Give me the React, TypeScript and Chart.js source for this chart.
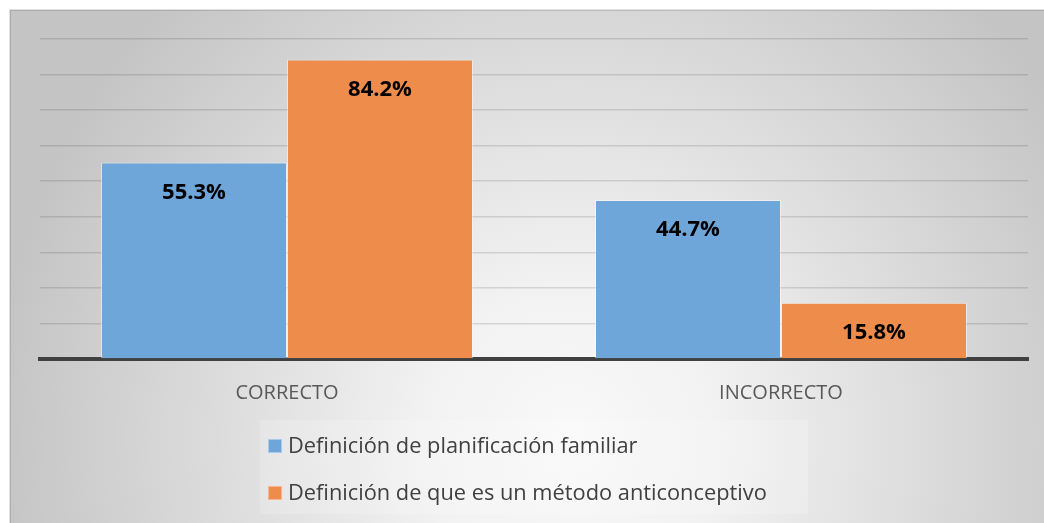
import React, { useEffect, useRef } from 'react';
import { Chart, registerables } from 'chart.js';

Chart.register(...registerables);

const categories = ['CORRECTO', 'INCORRECTO'];
const seriesNames = [
  'Definición de planificación familiar',
  'Definición de que es un método anticonceptivo',
];
const planificacionValues = [55.3, 44.7];
const metodoValues = [84.2, 15.8];
const seriesColors = ['#6ea6da', '#ee8c4c'];
const seriesEdge = ['#a9cbeb', '#f5b690'];
const yMin = 0;
const yMax = 90;
const yStep = 10;

const backgroundPlugin = {
  id: 'bgPanel',
  beforeDraw(chart: any) {
    const ctx = chart.ctx as CanvasRenderingContext2D;
    const w = chart.width;
    const h = chart.height;
    ctx.save();
    ctx.fillStyle = '#ffffff';
    ctx.fillRect(0, 0, w, h);
    const cx = 570;
    const cy = 440;
    const rx = 580;
    const ry = 620;
    ctx.save();
    ctx.beginPath();
    ctx.rect(10, 10, w - 10, h - 10);
    ctx.clip();
    ctx.translate(cx, cy);
    ctx.scale(1, ry / rx);
    const g = ctx.createRadialGradient(0, 0, 0, 0, 0, rx);
    g.addColorStop(0, '#f9f9f9');
    g.addColorStop(0.25, '#f2f2f2');
    g.addColorStop(1, '#c4c4c4');
    ctx.fillStyle = g;
    ctx.fillRect(-cx - 10, -cy * 2, w * 2, h * 3);
    ctx.restore();
    ctx.strokeStyle = 'rgba(0,0,0,0.12)';
    ctx.lineWidth = 2;
    ctx.beginPath();
    ctx.moveTo(10, h);
    ctx.lineTo(10, 10);
    ctx.lineTo(w, 10);
    ctx.stroke();
    ctx.restore();
  },
};

const valueLabelPlugin = {
  id: 'valueLabels',
  afterDraw(chart: any) {
    const ctx = chart.ctx as CanvasRenderingContext2D;
    ctx.save();
    ctx.fillStyle = '#000000';
    ctx.font = 'bold 22px "Open Sans"';
    ctx.textAlign = 'center';
    ctx.textBaseline = 'middle';
    chart.data.datasets.forEach((ds: any, di: number) => {
      const meta = chart.getDatasetMeta(di);
      meta.data.forEach((bar: any, i: number) => {
        const v = ds.data[i] as number;
        ctx.fillText(v.toFixed(1) + '%', bar.x, bar.y + 30);
      });
    });
    ctx.restore();
  },
};

const legendPlugin = {
  id: 'customLegend',
  afterDraw(chart: any) {
    const ctx = chart.ctx as CanvasRenderingContext2D;
    ctx.save();
    ctx.fillStyle = 'rgba(255,255,255,0.18)';
    ctx.fillRect(260, 420, 548, 94);
    const rows = [446, 493];
    ctx.font = '21.8px "Open Sans"';
    ctx.textBaseline = 'middle';
    ctx.textAlign = 'left';
    chart.data.datasets.forEach((ds: any, di: number) => {
      const y = rows[di];
      ctx.fillStyle = ds.backgroundColor;
      ctx.fillRect(268, y - 7, 14, 14);
      ctx.strokeStyle = seriesEdge[di];
      ctx.lineWidth = 1;
      ctx.strokeRect(268.5, y - 6.5, 13, 13);
      ctx.fillStyle = '#404040';
      ctx.fillText(ds.label, 288, y + 1);
    });
    ctx.restore();
  },
};

export default function App() {
  const canvasRef = useRef<HTMLCanvasElement | null>(null);

  useEffect(() => {
    document.body.style.margin = '0';
    const canvas = canvasRef.current;
    if (!canvas) return;
    const chart = new Chart(canvas, {
      type: 'bar',
      data: {
        labels: categories,
        datasets: [
          {
            label: seriesNames[0],
            data: planificacionValues,
            backgroundColor: seriesColors[0],
            borderColor: 'rgba(255,255,255,0.45)',
            borderWidth: 1,
            categoryPercentage: 0.753,
            barPercentage: 1.0,
          },
          {
            label: seriesNames[1],
            data: metodoValues,
            backgroundColor: seriesColors[1],
            borderColor: 'rgba(255,255,255,0.45)',
            borderWidth: 1,
            categoryPercentage: 0.753,
            barPercentage: 1.0,
          },
        ],
      },
      options: {
        responsive: false,
        animation: false,
        layout: { padding: { left: 40, right: 16, top: 39, bottom: 0 } },
        plugins: {
          legend: { display: false },
          tooltip: { enabled: false },
        },
        scales: {
          x: {
            z: 1,
            grid: { display: false },
            border: { display: true, color: '#404040', width: 4 },
            ticks: {
              color: '#595959',
              font: { family: 'Open Sans', size: 20 },
              padding: 14,
            },
            afterFit: (s: any) => {
              s.height = 164;
            },
          },
          y: {
            z: 1,
            min: yMin,
            max: yMax,
            ticks: { display: false, stepSize: yStep },
            grid: { color: 'rgba(0,0,0,0.12)', lineWidth: 1.5, drawTicks: false },
            border: { display: false },
            afterFit: (s: any) => {
              s.width = 0;
            },
          },
        },
      },
      plugins: [backgroundPlugin, valueLabelPlugin, legendPlugin],
    });
    return () => chart.destroy();
  }, []);

  return (
    <div style={{ position: 'absolute', left: 0, top: 0, width: 1044, height: 523 }}>
      <canvas ref={canvasRef} width={1044} height={523} style={{ display: 'block' }} />
    </div>
  );
}
